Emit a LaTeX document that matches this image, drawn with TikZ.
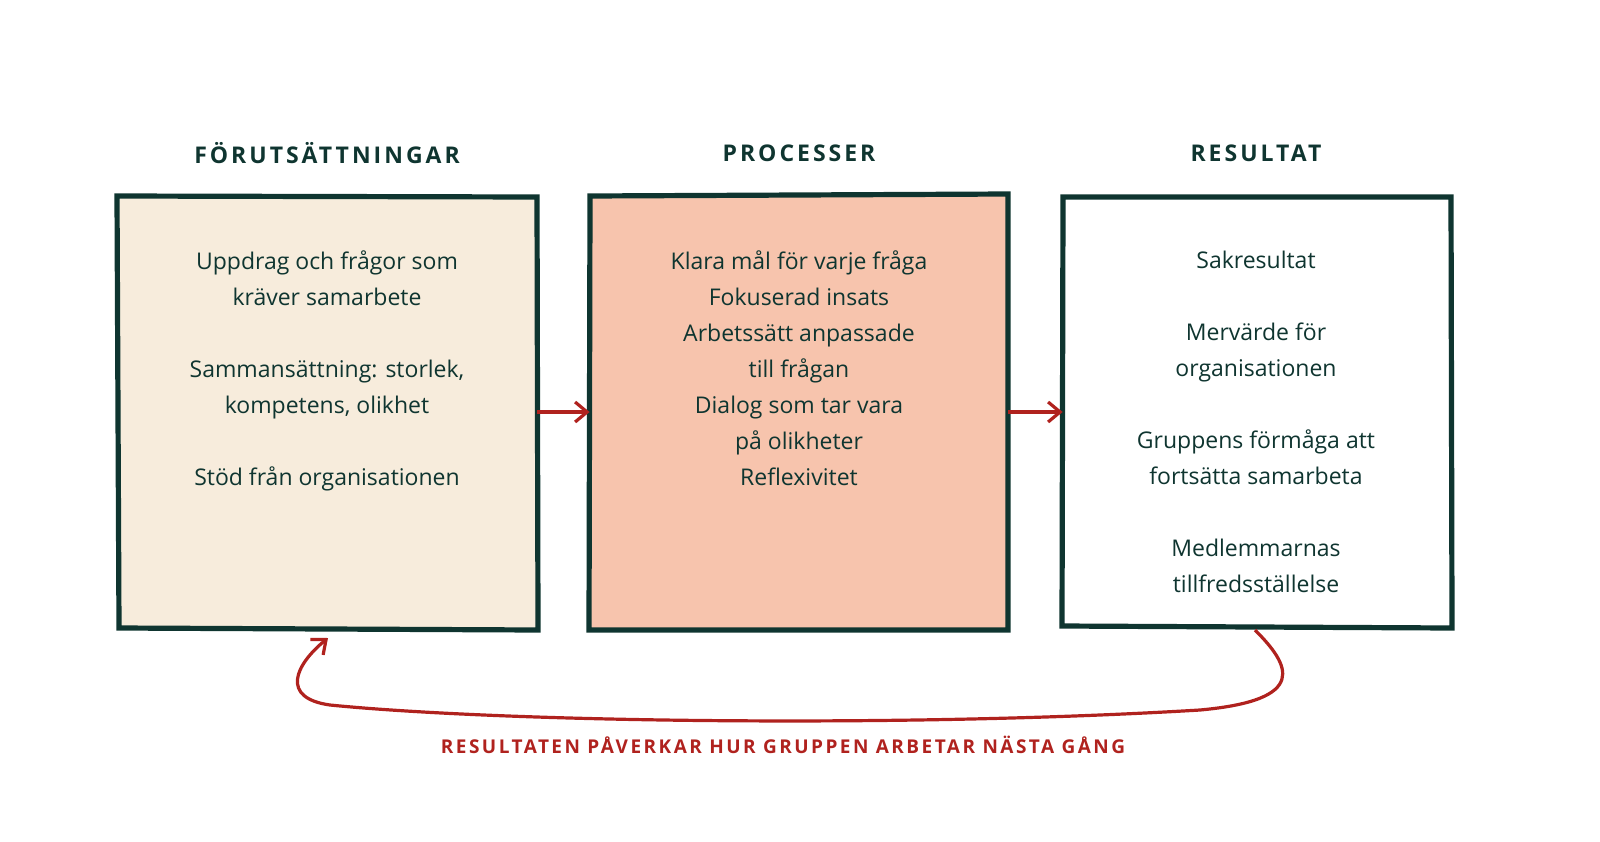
\documentclass[tikz,border=0pt]{standalone}
\usepackage{fontspec}
\setmainfont{Open Sans}
\newfontfamily\spaced[LetterSpace=13]{Open Sans}
\usetikzlibrary{arrows.meta}
\definecolor{dk}{HTML}{0F3530}
\definecolor{cream}{HTML}{F7ECDC}
\definecolor{salmon}{HTML}{F7C4AD}
\definecolor{rd}{HTML}{B0221E}
\begin{document}
\begin{tikzpicture}[x=0.5pt,y=-0.5pt,
  box/.style={draw=dk,line width=2.6pt},
  body/.style={text=dk,font=\fontsize{11.5}{18}\selectfont,align=center},
  head/.style={text=dk,font=\spaced\bfseries\fontsize{11.5}{14}\selectfont},
  arr/.style={draw=rd,line width=1.6pt,-{Straight Barb[length=6pt,width=10pt]}}]
\useasboundingbox (0,0) rectangle (1600,841);
\draw[box,fill=cream] (117,196) -- (537,197) -- (538,630) -- (119,628) -- cycle;
\draw[box,fill=salmon] (590,196) -- (1008,194) -- (1008,630) -- (589,630) -- cycle;
\draw[box,fill=white] (1063,197) -- (1451,197) -- (1452,628) -- (1062,626) -- cycle;
\node[draw=none,minimum width=210,minimum height=217] (a) at (327,412) {};
\node[draw=none,minimum width=209,minimum height=218] (b) at (799,412) {};
\node[draw=none,minimum width=194,minimum height=216] (c) at (1257,412) {};
\node[head] (ha) at (327,153) {FÖRUTSÄTTNINGAR};
\node[head] (hb) at (799,153) {PROCESSER};
\node[head] (hc) at (1256,153) {RESULTAT};
\node[body,anchor=north] (ta) at (327,244) {Uppdrag och frågor som\\kräver samarbete\\[18pt]Sammansättning: storlek,\\kompetens, olikhet\\[18pt]Stöd från organisationen};
\node[body,anchor=north] (tb) at (799,244) {Klara mål för varje fråga\\Fokuserad insats\\Arbetssätt anpassade\\till frågan\\Dialog som tar vara\\på olikheter\\Reflexivitet};
\node[body,anchor=north] (tc) at (1256,244) {Sakresultat\\[18pt]Mervärde för\\organisationen\\[18pt]Gruppens förmåga att\\fortsätta samarbeta\\[18pt]Medlemmarnas\\tillfredsställelse};
\draw[arr] (a.east) -- (b.west);
\draw[arr] (b.east) -- (c.west);
\coordinate (s) at (1255,630);
\coordinate (e) at (328,638);
\draw[arr] (s) .. controls (1290,665) and (1310,700) .. (1200,710)
  .. controls (900,728) and (500,722) .. (330,705)
  .. controls (280,698) and (295,665) .. (e);
\node[text=rd,font=\spaced\bfseries\fontsize{9.5}{12}\selectfont] (lbl) at (783,745) {RESULTATEN PÅVERKAR HUR GRUPPEN ARBETAR NÄSTA GÅNG};
\end{tikzpicture}
\end{document}
